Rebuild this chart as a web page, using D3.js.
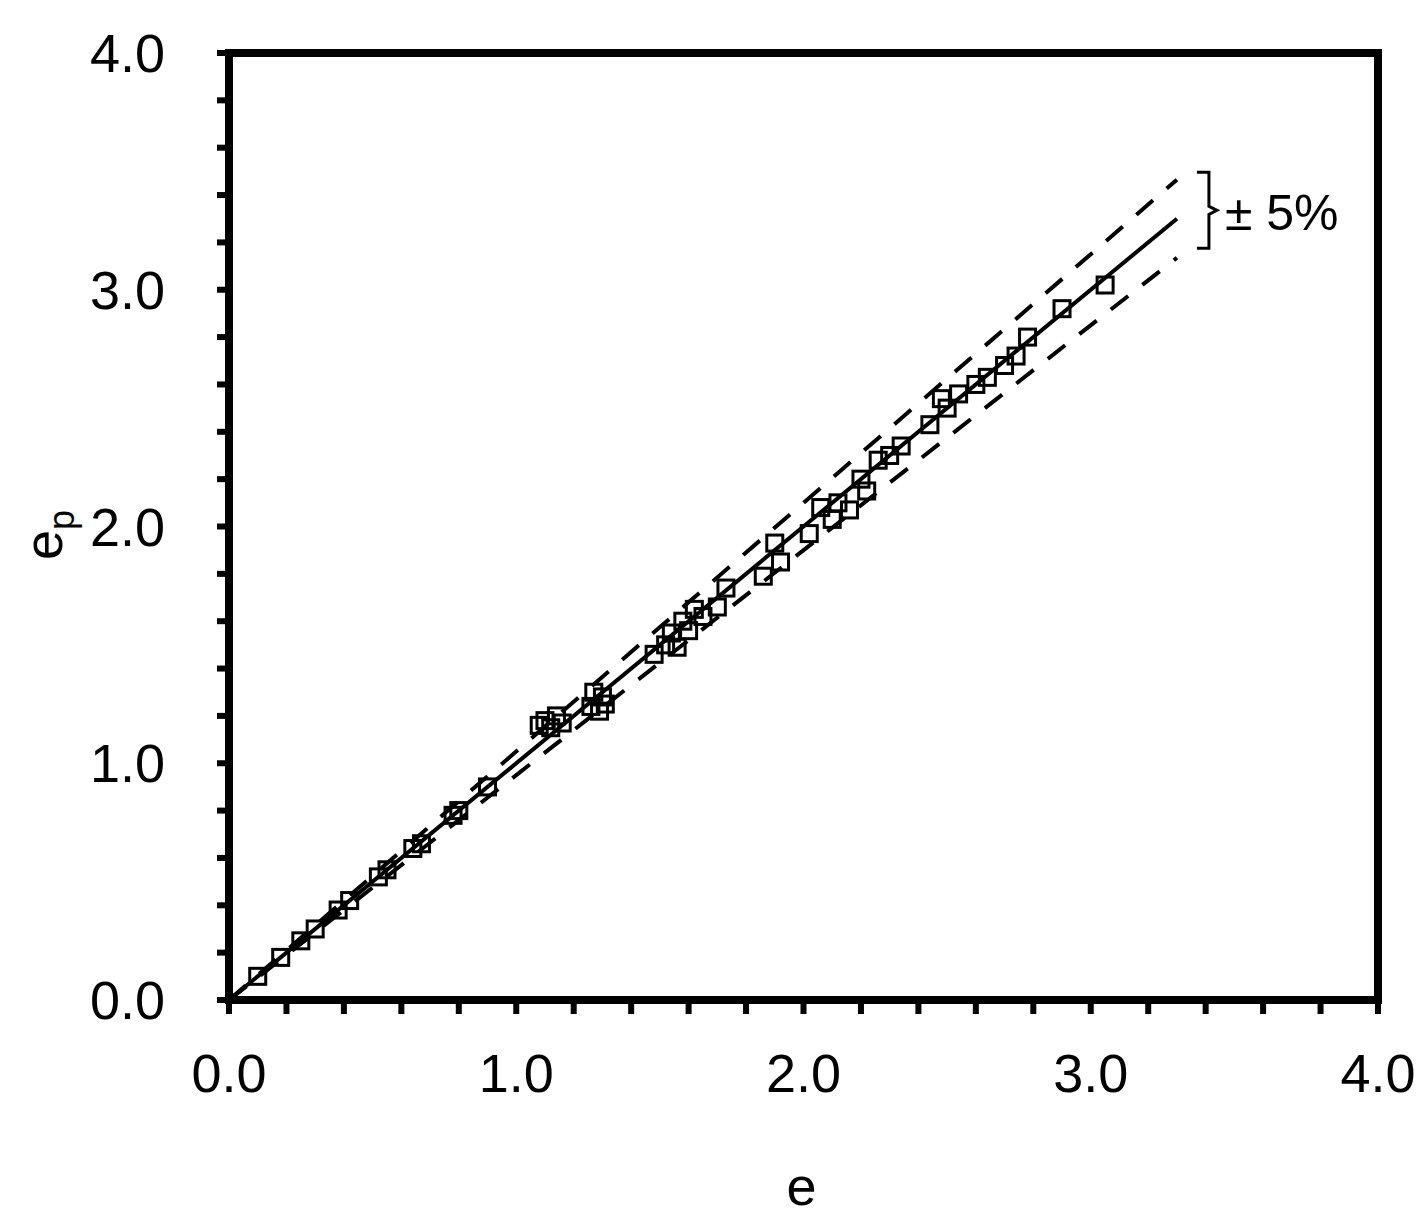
<!DOCTYPE html>
<html>
<head>
<meta charset="utf-8">
<script src="https://cdn.jsdelivr.net/npm/d3@7"></script>
<style>
  body { margin: 0; background: #fff; }
  text { font-family: "Liberation Sans", Arial, sans-serif; fill: #000; }
</style>
</head>
<body>
<svg id="chart"></svg>
<script>
// measured e vs predicted e_p
const eValues = [0.10, 0.18, 0.25, 0.30, 0.38, 0.42, 0.52, 0.55, 0.64, 0.67, 0.78, 0.80, 0.90,
  1.08, 1.10, 1.12, 1.14, 1.16, 1.26, 1.27, 1.29, 1.30, 1.31,
  1.48, 1.52, 1.54, 1.56, 1.58, 1.60, 1.62, 1.65, 1.70, 1.73,
  1.86, 1.90, 1.92, 2.02, 2.06, 2.10, 2.12, 2.16, 2.20, 2.22, 2.26, 2.30, 2.34,
  2.44, 2.48, 2.50, 2.54, 2.60, 2.64, 2.70, 2.74, 2.78, 2.90, 3.05];
const epValues = [0.10, 0.18, 0.25, 0.30, 0.38, 0.42, 0.52, 0.55, 0.64, 0.66, 0.78, 0.80, 0.90,
  1.16, 1.18, 1.15, 1.20, 1.17, 1.24, 1.30, 1.22, 1.28, 1.25,
  1.46, 1.50, 1.55, 1.49, 1.60, 1.56, 1.65, 1.62, 1.66, 1.74,
  1.79, 1.93, 1.85, 1.97, 2.08, 2.03, 2.10, 2.07, 2.20, 2.15, 2.28, 2.30, 2.34,
  2.43, 2.54, 2.50, 2.56, 2.60, 2.63, 2.68, 2.72, 2.80, 2.92, 3.02];
const lineFactors = [1, 1.05, 0.95];
const lineEnd = 3.3;
const xTicks = [0, 1, 2, 3, 4];
const yTicks = [0, 1, 2, 3, 4];

const width = 1422, height = 1230;
const margin = {top: 53, right: 44, bottom: 230, left: 229};
const svg = d3.select('#chart').attr('width', width).attr('height', height);
const innerW = width - margin.left - margin.right;
const innerH = height - margin.top - margin.bottom;

const xScale = d3.scaleLinear().domain([0, 4]).range([0, innerW]);
const yScale = d3.scaleLinear().domain([0, 4]).range([innerH, 0]);

const chart = svg.append('g').attr('transform', `translate(${margin.left},${margin.top})`);

// minor ticks every 0.2
const minor = d3.range(0, 4.001, 0.2);
chart.selectAll('.xt').data(minor).join('line')
    .attr('x1', d => xScale(d)).attr('x2', d => xScale(d))
    .attr('y1', innerH).attr('y2', innerH + 14)
    .attr('stroke', '#000').attr('stroke-width', 6);
chart.selectAll('.yt').data(minor).join('line')
    .attr('y1', d => yScale(d)).attr('y2', d => yScale(d))
    .attr('x1', 0).attr('x2', -12)
    .attr('stroke', '#000').attr('stroke-width', 6);

// reference lines
const lineGen = d3.line().x(d => xScale(d[0])).y(d => yScale(d[1]));
lineFactors.forEach((f, i) => {
  chart.append('path')
      .attr('d', lineGen([[0, 0], [lineEnd, lineEnd * f]]))
      .attr('fill', 'none').attr('stroke', '#000')
      .attr('stroke-width', 4)
      .attr('stroke-dasharray', i === 0 ? null : '22,18');
});

// points
chart.selectAll('.pt').data(eValues.map((e, i) => [e, epValues[i]])).join('rect')
    .attr('x', d => xScale(d[0]) - 8).attr('y', d => yScale(d[1]) - 8)
    .attr('width', 16).attr('height', 16)
    .attr('fill', 'none').attr('stroke', '#000').attr('stroke-width', 3);

// frame
chart.append('rect').attr('width', innerW).attr('height', innerH)
    .attr('fill', 'none').attr('stroke', '#000').attr('stroke-width', 8);

// tick labels
chart.selectAll('.xl').data(xTicks).join('text')
    .attr('x', d => xScale(d)).attr('y', innerH + 92)
    .attr('text-anchor', 'middle').style('font-size', '54px')
    .text(d => d.toFixed(1));
chart.selectAll('.yl').data(yTicks).join('text')
    .attr('x', -64).attr('y', d => yScale(d) + 19)
    .attr('text-anchor', 'end').style('font-size', '54px')
    .text(d => d.toFixed(1));

// axis titles
svg.append('text').attr('x', margin.left + innerW / 2 - 2).attr('y', 1205)
    .attr('text-anchor', 'middle').style('font-size', '54px').text('e');
svg.append('text').attr('transform', 'translate(62,535) rotate(-90)')
    .attr('text-anchor', 'middle').style('font-size', '54px')
    .html('e<tspan dy="12" style="font-size:36px">p</tspan>');

// ±5% bracket
const bx = xScale(lineEnd) + 32;
chart.append('path')
    .attr('d', `M${bx - 12},${yScale(3.42) - 18} h12 v${34} l8,4 l-8,4 v${34} h-12`)
    .attr('fill', 'none').attr('stroke', '#000').attr('stroke-width', 3);
chart.append('text').attr('x', bx + 16).attr('y', yScale(3.42) + 40)
    .style('font-size', '50px').text('± 5%');
</script>
</body>
</html>
